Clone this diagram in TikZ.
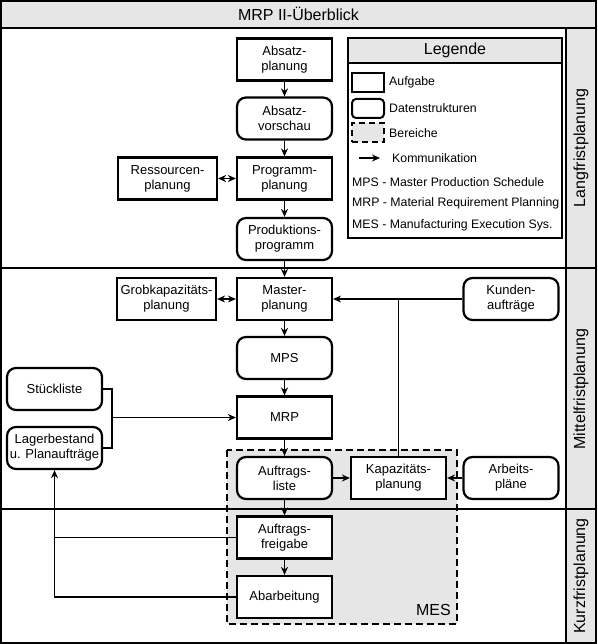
\documentclass[tikz,border=0pt]{standalone}
\usepackage{fontspec}
\setmainfont{Liberation Sans}
\usepackage{xcolor}
\usepackage{tikz}
\usetikzlibrary{positioning,calc,arrows.meta}

\definecolor{panelgray}{RGB}{230,230,230}
\newcommand{\boxfont}{\fontsize{13}{15}\selectfont}
\newcommand{\headfont}{\fontsize{16}{19}\selectfont}
\newcommand{\legfont}{\fontsize{12.3}{14}\selectfont}

\tikzset{
    task/.style={draw, fill=white, line width=2.2pt, minimum width=95pt, minimum height=42pt, align=center, inner sep=2pt, font=\boxfont},
    data/.style={task, rounded corners=9pt},
    frame/.style={line width=2.4pt},
    region/.style={fill=panelgray, dashed, dash pattern=on 7pt off 4pt, line width=1.8pt},
    flow/.style={line width=1.7pt, -{Stealth[length=8pt, width=7pt]}},
    both/.style={line width=1.7pt, {Stealth[length=8pt, width=7pt]}-{Stealth[length=8pt, width=7pt]}},
    plain/.style={line width=1.7pt},
    legicon/.style={draw, line width=2pt, minimum width=32pt, minimum height=19pt, inner sep=0pt},
    legtext/.style={anchor=west, inner sep=0pt, font=\legfont}
}

\begin{document}
\begin{tikzpicture}[x=1pt, y=-1pt]
    \useasboundingbox (0,0) rectangle (597,644);

    % Title bar and side column
    \fill[panelgray] (1,1) rectangle (596,28);
    \fill[panelgray] (566,28) rectangle (596,643);

    % MES area
    \draw[region] (227,450) rectangle (457,624);
    \node[anchor=base east, font=\headfont, inner sep=0pt] (meslabel) at (451,615) {MES};

    % Frame and planning bands
    \draw[frame] (1.2,1.2) rectangle (595.8,642.8);
    \draw[frame] (1,28) -- (596,28);
    \draw[frame] (1,268) -- (596,268);
    \draw[frame] (1,509) -- (596,509);
    \draw[frame] (566,28) -- (566,643);
    \node[font=\headfont] (title) at (298.5,14) {MRP II-Überblick};
    \node[font=\headfont, rotate=90] (lang) at (581,148) {Langfristplanung};
    \node[font=\headfont, rotate=90] (mittel) at (581,389) {Mittelfristplanung};
    \node[font=\headfont, rotate=90] (kurz) at (581,576) {Kurzfristplanung};

    % Long-term
    \node[task] (absplan) at (284.5,59.5) {Absatz-\\planung};
    \node[data] (absvor) at (284.5,118.5) {Absatz-\\vorschau};
    \node[task] (progplan) at (284.5,178.5) {Programm-\\planung};
    \node[task, minimum width=99pt] (ressplan) at (167.5,178.5) {Ressourcen-\\planung};
    \node[data] (prodprog) at (284.5,239) {Produktions-\\programm};

    % Mid-term
    \node[task] (masterplan) at (284.5,299) {Master-\\planung};
    \node[task, minimum width=99pt] (grobplan) at (166.5,299) {Grobkapazitäts-\\planung};
    \node[data] (kunden) at (511,299) {Kunden-\\aufträge};
    \node[data] (mps) at (284.5,358) {MPS};
    \node[task] (mrp) at (284.5,417.5) {MRP};
    \node[data] (stueck) at (54.5,389) {Stückliste};
    \node[data] (lager) at (54.5,448) {Lagerbestand\\u. Planaufträge};
    \node[data] (aliste) at (284.5,478) {Auftrags-\\liste};
    \node[task] (kapplan) at (398.5,478) {Kapazitäts-\\planung};
    \node[data] (arbplan) at (511,478) {Arbeits-\\pläne};

    % Short-term
    \node[task] (afreig) at (284.5,537.5) {Auftrags-\\freigabe};
    \node[task] (abarb) at (284.5,597) {Abarbeitung};

    % Connections
    \draw[flow] (absplan) -- (absvor);
    \draw[flow] (absvor) -- (progplan);
    \draw[flow] (progplan) -- (prodprog);
    \draw[flow] (prodprog) -- (masterplan);
    \draw[both] (ressplan) -- (progplan);
    \draw[both] (grobplan) -- (masterplan);
    \draw[flow] (masterplan) -- (mps);
    \draw[flow] (mps) -- (mrp);
    \draw[flow] (mrp) -- (aliste);
    \draw[flow] (aliste) -- (afreig);
    \draw[flow] (afreig) -- (abarb);
    \draw[flow] (aliste) -- (kapplan);
    \draw[flow] (arbplan) -- (kapplan);
    \draw[flow] (kunden) -- (masterplan);
    \draw[plain] (kapplan.north) -- (kapplan.north |- kunden.west);
    \coordinate (bomjoin) at (112,417.5);
    \draw[plain] (stueck.east) -| (bomjoin) |- (lager.east);
    \draw[flow] (bomjoin) -- (mrp.west);
    \draw[flow] (abarb.west) -| (lager.south);
    \draw[plain] (afreig.west) -- (afreig.west -| lager.south);

    % Legend
    \draw[line width=2pt, fill=panelgray] (348,38) rectangle (562,63);
    \draw[line width=2pt] (348,63) rectangle (562,238);
    \node[font=\headfont] (legtitle) at (455,50.5) {Legende};
    \node[legicon] (legtask) at (368,82.5) {};
    \node[legtext] (legtasktxt) at (389,82.5) {Aufgabe};
    \node[legicon, rounded corners=4pt] (legdata) at (368,108.5) {};
    \node[legtext] (legdatatxt) at (389,108.5) {Datenstrukturen};
    \node[legicon, fill=panelgray, dashed, dash pattern=on 6pt off 4pt] (legarea) at (368,133) {};
    \node[legtext] (legareatxt) at (389,133) {Bereiche};
    \coordinate (legarrowA) at (359,158);
    \coordinate (legarrowB) at (380,158);
    \draw[flow] (legarrowA) -- (legarrowB);
    \node[legtext] (legflowtxt) at (392,158) {Kommunikation};
    \node[legtext] (legmps) at (352,182) {MPS - Master Production Schedule};
    \node[legtext] (legmrp) at (352,203) {MRP - Material Requirement Planning};
    \node[legtext] (legmes) at (352,225) {MES - Manufacturing Execution Sys.};
\end{tikzpicture}
\end{document}
